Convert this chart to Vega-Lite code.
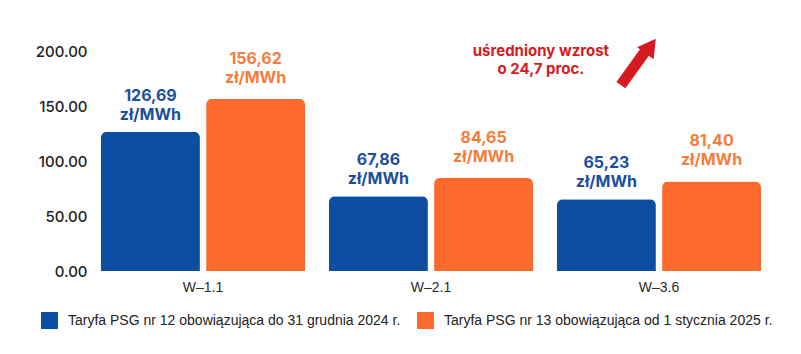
{
  "$schema": "https://vega.github.io/schema/vega-lite/v6.json",
  "width": 684,
  "height": 220,
  "autosize": {"type": "none"},
  "padding": {"left": 89, "top": 51, "right": 28, "bottom": 83},
  "background": "white",
  "config": {"view": {"stroke": null}, "font": "Inter"},
  "datasets": {
    "taryfy": [
      {"grupa": "W–1.1", "taryfa": "Taryfa PSG nr 12 obowiązująca do 31 grudnia 2024 r.", "wartosc": 126.69, "etykieta": "126,69\nzł/MWh"},
      {"grupa": "W–1.1", "taryfa": "Taryfa PSG nr 13 obowiązująca od 1 stycznia 2025 r.", "wartosc": 156.62, "etykieta": "156,62\nzł/MWh"},
      {"grupa": "W–2.1", "taryfa": "Taryfa PSG nr 12 obowiązująca do 31 grudnia 2024 r.", "wartosc": 67.86, "etykieta": "67,86\nzł/MWh"},
      {"grupa": "W–2.1", "taryfa": "Taryfa PSG nr 13 obowiązująca od 1 stycznia 2025 r.", "wartosc": 84.65, "etykieta": "84,65\nzł/MWh"},
      {"grupa": "W–3.6", "taryfa": "Taryfa PSG nr 12 obowiązująca do 31 grudnia 2024 r.", "wartosc": 65.23, "etykieta": "65,23\nzł/MWh"},
      {"grupa": "W–3.6", "taryfa": "Taryfa PSG nr 13 obowiązująca od 1 stycznia 2025 r.", "wartosc": 81.40, "etykieta": "81,40\nzł/MWh"}
    ]
  },
  "layer": [
    {
      "data": {"name": "taryfy"},
      "encoding": {
        "x": {
          "field": "grupa", "type": "nominal", "sort": null,
          "scale": {"paddingInner": 0.105, "paddingOuter": 0.0526},
          "axis": {"title": null, "labelAngle": 0, "domain": false, "ticks": false, "labelPadding": 9, "labelFont": "Liberation Sans", "labelFontSize": 14, "labelColor": "#2a2a2a"}
        },
        "xOffset": {
          "field": "taryfa", "type": "nominal", "sort": null,
          "scale": {"paddingInner": 0.0588, "paddingOuter": 0}
        },
        "y": {
          "field": "wartosc", "type": "quantitative",
          "scale": {"domain": [0, 200], "nice": false},
          "axis": {"title": null, "values": [0, 50, 100, 150, 200], "format": ".2f", "grid": false, "domain": false, "ticks": false, "labelPadding": 2, "labelFont": "Inter", "labelFontSize": 15, "labelFontWeight": 500, "labelColor": "#222222"}
        }
      },
      "layer": [
        {
          "mark": {"type": "bar", "cornerRadiusTopLeft": 6, "cornerRadiusTopRight": 6},
          "encoding": {
            "color": {
              "field": "taryfa", "type": "nominal", "sort": null,
              "scale": {"range": ["#0b4ea2", "#fd6a2b"]},
              "legend": {
                "title": null, "orient": "none", "legendX": -48, "legendY": 261, "direction": "horizontal",
                "symbolType": "square", "symbolSize": 289, "symbolStrokeWidth": 0, "symbolOpacity": 1,
                "labelFont": "Liberation Sans", "labelFontSize": 14, "labelColor": "#222222",
                "labelLimit": 500, "columnPadding": 16, "labelOffset": 10, "padding": 0
              }
            }
          }
        },
        {
          "transform": [{"filter": "indexof(datum.taryfa, 'nr 12') >= 0"}],
          "mark": {"type": "text", "baseline": "alphabetic", "dy": -31, "lineBreak": "\n", "fontSize": 16, "fontWeight": "bold", "lineHeight": 19, "color": "#1b4f9c"},
          "encoding": {"text": {"field": "etykieta"}}
        },
        {
          "transform": [{"filter": "indexof(datum.taryfa, 'nr 13') >= 0"}],
          "mark": {"type": "text", "baseline": "alphabetic", "dy": -35, "lineBreak": "\n", "fontSize": 16, "fontWeight": "bold", "lineHeight": 19, "color": "#f47d3c"},
          "encoding": {"text": {"field": "etykieta"}}
        }
      ]
    },
    {
      "data": {"values": [{}]},
      "layer": [
        {
          "mark": {"type": "text", "fontSize": 15, "fontWeight": "bold", "color": "#d71920", "lineHeight": 18, "align": "center", "baseline": "alphabetic"},
          "encoding": {
            "x": {"datum": 1.982, "type": "quantitative", "scale": {"domain": [0, 3], "nice": false, "zero": false}, "axis": null},
            "y": {"datum": 195.5, "type": "quantitative", "scale": {"domain": [0, 200], "nice": false}, "axis": null},
            "text": {"value": ["uśredniony wzrost", "o 24,7 proc."]}
          }
        },
        {
          "mark": {"type": "rule", "color": "#d71920", "strokeWidth": 11, "strokeCap": "butt"},
          "encoding": {
            "x": {"datum": 2.333, "type": "quantitative", "scale": {"domain": [0, 3], "nice": false, "zero": false}, "axis": null},
            "y": {"datum": 169, "type": "quantitative", "scale": {"domain": [0, 200], "nice": false}, "axis": null},
            "x2": {"datum": 2.448},
            "y2": {"datum": 202}
          }
        },
        {
          "mark": {"type": "point", "shape": "triangle-up", "filled": true, "opacity": 1, "color": "#d71920", "size": 420, "angle": 36},
          "encoding": {
            "x": {"datum": 2.463, "type": "quantitative", "scale": {"domain": [0, 3], "nice": false, "zero": false}, "axis": null},
            "y": {"datum": 204.5, "type": "quantitative", "scale": {"domain": [0, 200], "nice": false}, "axis": null}
          }
        }
      ]
    }
  ],
  "resolve": {"scale": {"x": "independent", "y": "independent", "color": "independent"}}
}
